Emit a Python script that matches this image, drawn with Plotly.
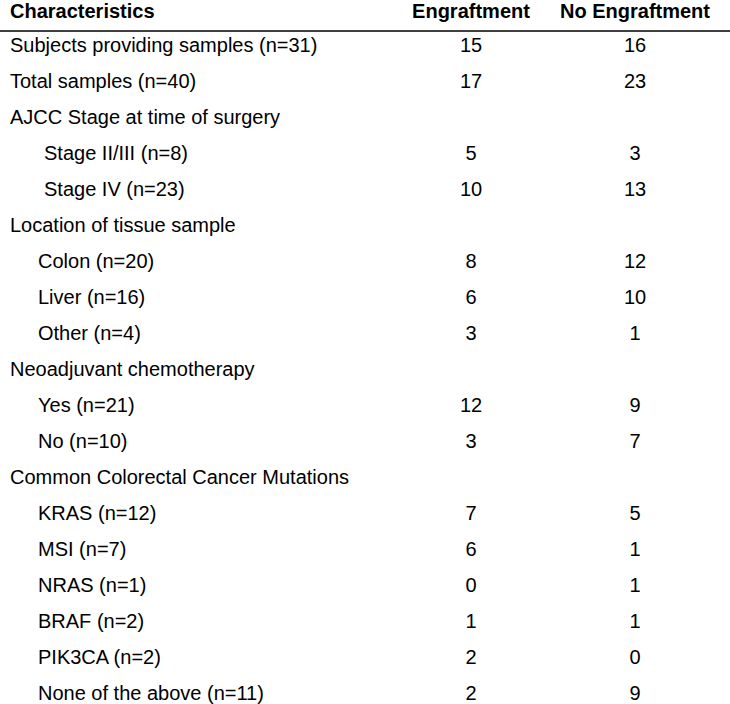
import plotly.graph_objects as go

headers = ["Characteristics", "Engraftment", "No Engraftment"]
labels = [
    "Subjects providing samples (n=31)",
    "Total samples (n=40)",
    "AJCC Stage at time of surgery",
    "Stage II/III (n=8)",
    "Stage IV (n=23)",
    "Location of tissue sample",
    "Colon (n=20)",
    "Liver (n=16)",
    "Other (n=4)",
    "Neoadjuvant chemotherapy",
    "Yes (n=21)",
    "No (n=10)",
    "Common Colorectal Cancer Mutations",
    "KRAS (n=12)",
    "MSI (n=7)",
    "NRAS (n=1)",
    "BRAF (n=2)",
    "PIK3CA (n=2)",
    "None of the above (n=11)",
]
indent = [0, 0, 0, 2, 2, 0, 1, 1, 1, 0, 1, 1, 0, 1, 1, 1, 1, 1, 1]
engraftment = ["15", "17", "", "5", "10", "", "8", "6", "3", "", "12", "3", "", "7", "6", "0", "1", "2", "2"]
no_engraftment = ["16", "23", "", "3", "13", "", "12", "10", "1", "", "9", "7", "", "5", "1", "1", "1", "0", "9"]

FONT = "Liberation Sans, Arial, Helvetica, sans-serif"
FS = 20
rows = list(range(1, len(labels) + 1))
indent_px = {0: 10, 1: 38, 2: 44}
COL1, COL2 = 471, 635
TOP = 11  # pixel of header row centre
STEP = 36
HEADER_NUDGE = 2 / STEP  # keep header glyph box inside the page

fig = go.Figure()
common = dict(mode="text", hoverinfo="skip", cliponaxis=False)
# header
fig.add_trace(go.Scatter(
    x=[10], y=[HEADER_NUDGE], text=[headers[0]], textposition="middle right",
    textfont=dict(family=FONT, size=FS, color="black", weight="bold"), **common))
fig.add_trace(go.Scatter(
    x=[COL1, COL2], y=[HEADER_NUDGE] * 2, text=headers[1:], textposition="middle center",
    textfont=dict(family=FONT, size=FS, color="black", weight="bold"), **common))
# labels
fig.add_trace(go.Scatter(
    x=[indent_px[i] for i in indent], y=rows, text=labels,
    textposition="middle right",
    textfont=dict(family=FONT, size=FS, color="black"), **common))
fig.add_trace(go.Scatter(
    x=[COL1] * len(rows), y=rows, text=engraftment, textposition="middle center",
    textfont=dict(family=FONT, size=FS, color="black"), **common))
fig.add_trace(go.Scatter(
    x=[COL2] * len(rows), y=rows, text=no_engraftment, textposition="middle center",
    textfont=dict(family=FONT, size=FS, color="black"), **common))

line_y = (31 - TOP) / STEP
fig.add_shape(type="line", xref="x", yref="y", x0=0, x1=730, y0=line_y, y1=line_y,
              line=dict(color="black", width=1.3))

fig.update_layout(
    width=730, height=704, margin=dict(l=0, r=0, t=0, b=0),
    paper_bgcolor="white", plot_bgcolor="white", showlegend=False,
    xaxis=dict(range=[0, 730], visible=False, fixedrange=True),
    yaxis=dict(range=[(704 - TOP) / STEP, -TOP / STEP], visible=False, fixedrange=True),
)
fig.write_html("out.html", config={"displayModeBar": False},
               post_script="document.body.style.margin='0';document.body.style.overflow='hidden';")
